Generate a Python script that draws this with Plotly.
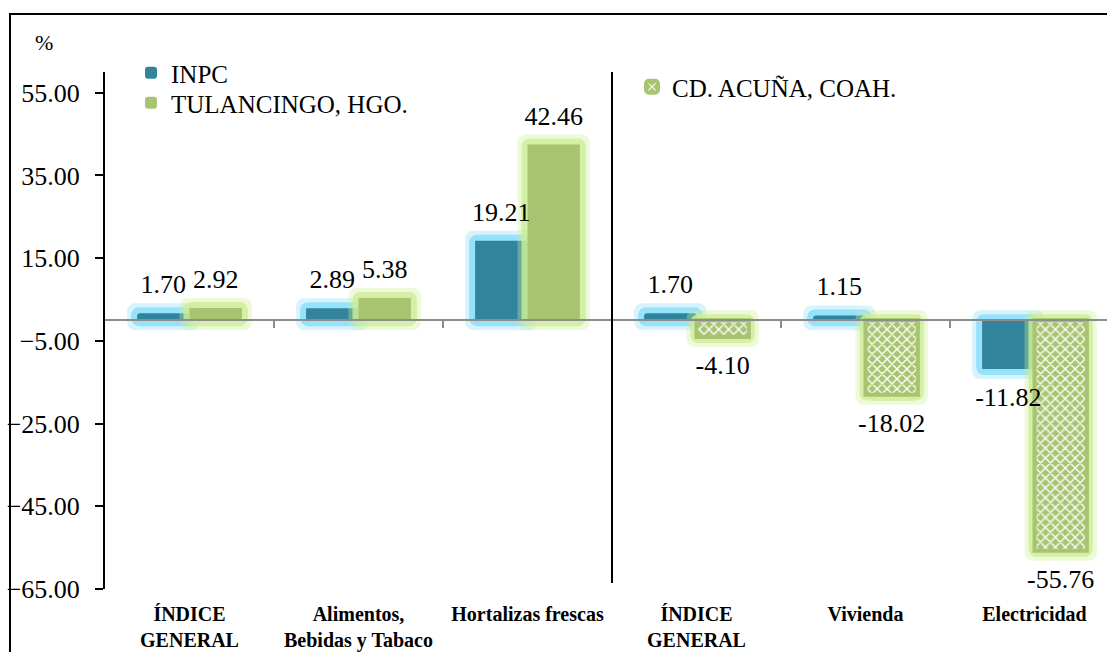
import plotly.graph_objects as go

# Variación porcentual por concepto
categories = ["ÍNDICE<br>GENERAL", "Alimentos,<br>Bebidas y Tabaco", "Hortalizas frescas",
              "ÍNDICE<br>GENERAL", "Vivienda", "Electricidad"]
inpc = [1.70, 2.89, 19.21, 1.70, 1.15, -11.82]
tulancingo = [2.92, 5.38, 42.46]
acuna = [-4.10, -18.02, -55.76]
y_ticks = [-65, -45, -25, -5, 15, 35, 55]
y_range = [-65, 60]

W, H = 1107, 652
M_L, M_R, M_T, M_B = 105, 0, 72, 63
CAT_PX = 169.0                       # width of one category slot in pixels
plot_w = W - M_L - M_R
plot_h = H - M_T - M_B
x_span = plot_w / CAT_PX
x_range = [-0.5, -0.5 + x_span]
px_per_unit = plot_h / (y_range[1] - y_range[0])

FONT = "Liberation Serif"
BLUE = "rgb(49,132,155)"
GREEN = "rgb(168,196,112)"
BLUE_GLOW = "rgba(140,222,250,{a})"
GREEN_GLOW = "rgba(205,238,150,{a})"

bw = 0.31                            # bar width in category units
xs = list(range(len(categories)))
xs_left = xs[:len(tulancingo)]
xs_right = xs[len(tulancingo):]


def halo(x, vals, offset, pad_px, color, text=None, radius=8, axis="x"):
    """Bar padded by pad_px on every side; used for the soft glow and for label placement."""
    g = pad_px / CAT_PX
    gy = pad_px / px_per_unit
    base = [-gy if v >= 0 else gy for v in vals]
    ys = [v + 2 * gy if v >= 0 else v - 2 * gy for v in vals]
    return go.Bar(
        x=x, y=ys, base=base, offset=offset - g, width=bw + 2 * g,
        marker=dict(color=color, line=dict(width=0), cornerradius=radius),
        text=text, textposition="outside" if text else "none",
        textfont=dict(family=FONT, size=26, color="black"),
        constraintext="none", cliponaxis=False,
        showlegend=False, hoverinfo="skip", xaxis=axis,
    )


def labels(vals):
    return [f"{v:.2f}" for v in vals]


fig = go.Figure()

# INPC glow + bars
fig.add_trace(halo(xs, inpc, -bw, 10, BLUE_GLOW.format(a=0.35)))
fig.add_trace(halo(xs, inpc, -bw, 6, BLUE_GLOW.format(a=0.85)))
fig.add_trace(go.Bar(
    x=xs, y=inpc, offset=-bw, width=bw, name="INPC",
    marker=dict(color=BLUE, line=dict(width=0), cornerradius=3),
    legend="legend", hoverinfo="skip",
))

# city glows
fig.add_trace(halo(xs_left, tulancingo, 0, 10, GREEN_GLOW.format(a=0.35)))
fig.add_trace(halo(xs_left, tulancingo, 0, 6, GREEN_GLOW.format(a=0.8)))
fig.add_trace(halo(xs_right, acuna, 0, 10, GREEN_GLOW.format(a=0.35)))
fig.add_trace(halo(xs_right, acuna, 0, 6, GREEN_GLOW.format(a=0.8)))

fig.add_trace(go.Bar(
    x=xs_left, y=tulancingo, offset=0, width=bw, name="TULANCINGO, HGO.",
    marker=dict(color=GREEN, line=dict(width=0), cornerradius=3),
    legend="legend3", hoverinfo="skip",
))
fig.add_trace(go.Bar(
    x=xs_right, y=acuna, offset=0, width=bw, name="CD. ACUÑA, COAH.",
    marker=dict(color=GREEN, line=dict(color=GREEN, width=4), cornerradius=3,
                pattern=dict(shape="x", fgcolor="white", bgcolor=GREEN,
                             size=7, solidity=0.35, fillmode="replace")),
    legend="legend2", hoverinfo="skip", xaxis="x2",
))

# value labels, drawn on top of every bar
CLEAR = "rgba(0,0,0,0)"
fig.add_trace(halo(xs, inpc, -bw, 11, CLEAR, text=labels(inpc), axis="x2"))
fig.add_trace(halo(xs_left, tulancingo, 0, 11, CLEAR, text=labels(tulancingo), axis="x2"))
fig.add_trace(halo(xs_right, acuna, 0, 11, CLEAR, text=labels(acuna), axis="x2"))

zero_pos = (0 - y_range[0]) / (y_range[1] - y_range[0])
boundaries = [i + 0.5 for i in xs[:-1]]


def legend_at(px_x, px_y):
    return dict(
        x=(px_x - M_L) / plot_w, y=1 + (M_T - px_y) / plot_h,
        xanchor="left", yanchor="middle",
        font=dict(family=FONT, size=25, color="black"),
        bgcolor="rgba(0,0,0,0)", itemwidth=30,
    )


fig.update_layout(
    width=W, height=H,
    margin=dict(l=M_L, r=M_R, t=M_T, b=M_B, pad=0),
    paper_bgcolor="white", plot_bgcolor="white",
    barmode="overlay",
    font=dict(family=FONT, color="black"),
    xaxis=dict(
        range=x_range, tickmode="array", tickvals=xs, ticktext=categories,
        showline=False, showgrid=False, zeroline=False, ticks="",
        tickfont=dict(family=FONT, size=20, color="black", weight="bold"),
        ticklabelstandoff=11,
    ),
    xaxis2=dict(
        matches="x", overlaying="x", anchor="free", position=zero_pos, side="bottom",
        range=x_range, tickmode="array", tickvals=boundaries,
        showticklabels=False, showgrid=False, zeroline=False,
        showline=True, linecolor="rgb(140,140,140)", linewidth=2,
        ticks="outside", ticklen=7, tickwidth=1.5, tickcolor="rgb(140,140,140)",
    ),
    yaxis=dict(
        range=y_range, tickmode="array", tickvals=y_ticks, tickformat=".2f",
        showgrid=False, zeroline=False,
        showline=True, linecolor="black", linewidth=2,
        ticks="outside", ticklen=8, tickwidth=1.5, tickcolor="black",
        tickfont=dict(family=FONT, size=26, color="black"),
        ticklabelstandoff=10,
    ),
    legend=legend_at(131, 73),
    legend3=legend_at(131, 103),
    legend2=legend_at(632, 87),
    annotations=[dict(
        text="%", xref="paper", yref="paper",
        x=(44 - M_L) / plot_w, y=1 + (M_T - 43) / plot_h,
        xanchor="center", yanchor="middle", showarrow=False,
        font=dict(family=FONT, size=22, color="black"),
    )],
    shapes=[
        # divider between the two city groups
        dict(type="line", xref="x", yref="paper",
             x0=len(tulancingo) - 0.5, x1=len(tulancingo) - 0.5,
             y0=6 / plot_h, y1=1, line=dict(color="black", width=2)),
        # outer frame
        dict(type="rect", xref="paper", yref="paper",
             x0=(10 - M_L) / plot_w, x1=1.2,
             y0=-0.3, y1=1 + (M_T - 14) / plot_h,
             line=dict(color="black", width=2), fillcolor="rgba(0,0,0,0)", layer="above"),
    ],
)

fig.write_html("out.html")
